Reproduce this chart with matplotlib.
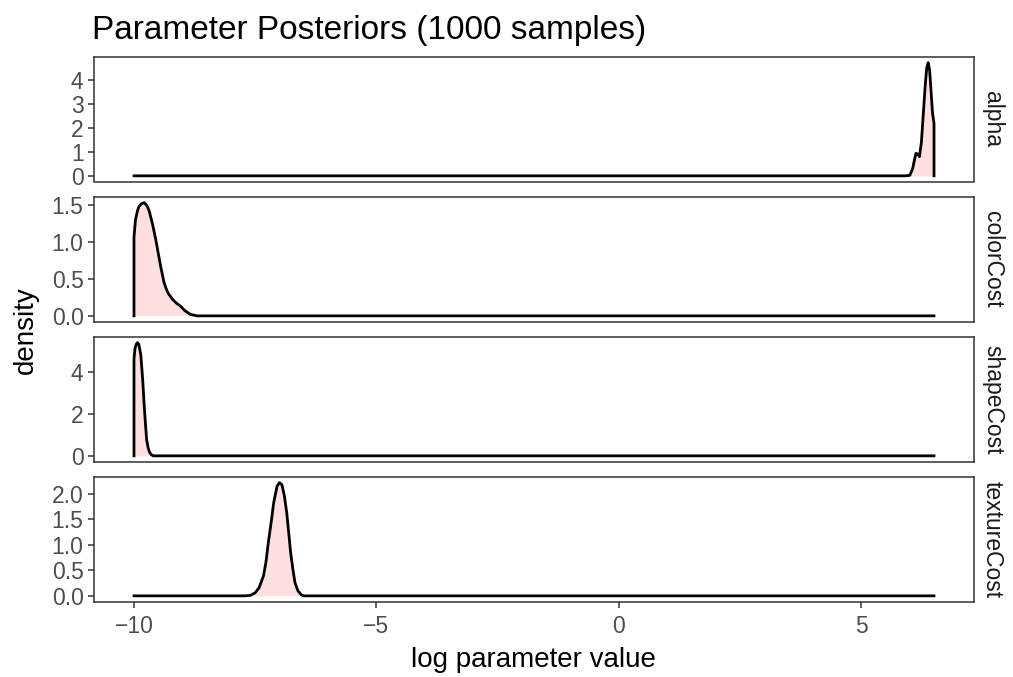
import matplotlib
matplotlib.use("Agg")
import matplotlib.pyplot as plt
from matplotlib.ticker import MultipleLocator, FormatStrFormatter

plt.rcParams['font.family'] = ['Liberation Sans', 'DejaVu Sans']

# 读图得到的密度曲线点
params = ["alpha", "colorCost", "shapeCost", "textureCost"]

alpha_x = [-10, 5.9, 6.0, 6.06, 6.1, 6.13, 6.17, 6.2, 6.24, 6.28, 6.32, 6.35, 6.38, 6.41, 6.44, 6.47, 6.5]
alpha_y = [0, 0, 0.02, 0.3, 0.7, 0.94, 0.9, 0.8, 1.4, 2.6, 3.8, 4.5, 4.72, 4.4, 3.5, 2.6, 2.2]

color_x = [-10, -9.97, -9.93, -9.9, -9.85, -9.79, -9.74, -9.69, -9.62, -9.55, -9.45, -9.38, -9.32, -9.28,
           -9.2, -9.12, -9.04, -8.95, -8.84, -8.7, 6.5]
color_y = [1.07, 1.3, 1.42, 1.48, 1.52, 1.535, 1.5, 1.43, 1.25, 1.03, 0.67, 0.45, 0.34, 0.29,
           0.22, 0.17, 0.13, 0.07, 0.02, 0, 0]

shape_x = [-10, -9.98, -9.95, -9.93, -9.9, -9.86, -9.82, -9.79, -9.76, -9.74, -9.71, -9.68, -9.64, -9.6, 6.5]
shape_y = [4.6, 5.1, 5.32, 5.38, 5.3, 4.8, 3.6, 2.4, 1.4, 0.78, 0.4, 0.17, 0.05, 0, 0]

texture_x = [-10, -7.7, -7.6, -7.5, -7.42, -7.33, -7.28, -7.23, -7.17, -7.12, -7.05, -7.0, -6.95, -6.9,
             -6.85, -6.8, -6.77, -6.72, -6.68, -6.62, -6.55, -6.5, 6.5]
texture_y = [0, 0, 0.01, 0.06, 0.16, 0.39, 0.65, 1.04, 1.45, 1.82, 2.15, 2.22, 2.18, 1.97,
             1.63, 1.15, 0.85, 0.5, 0.26, 0.1, 0.02, 0, 0]

curves = [(alpha_x, alpha_y), (color_x, color_y), (shape_x, shape_y), (texture_x, texture_y)]
y_steps = [1, 0.5, 2, 0.5]
y_fmts = ["%d", "%.1f", "%d", "%.1f"]

fig = plt.figure(figsize=(10.13, 6.77), dpi=100)

W, H = 1013, 677
left, right = 94, 974
top0, ph, step = 57, 124.5, 140

grey20 = "#333333"
grey30 = "#4D4D4D"

axes = []
for i, name in enumerate(params):
    top = top0 + step * i
    ax = fig.add_axes([left / W, 1 - (top + ph) / H, (right - left) / W, ph / H])
    xs, ys = curves[i]
    ax.fill_between(xs, ys, 0, color="#FFDFDF", lw=0)
    # 外轮廓：曲线 + 两端竖线
    ax.plot([xs[0]] + xs + [xs[-1]], [0] + ys + [0], color="black", lw=2.0, solid_joinstyle="round")
    ax.margins(x=0.05, y=0.05)
    ax.yaxis.set_major_locator(MultipleLocator(y_steps[i]))
    ax.yaxis.set_major_formatter(FormatStrFormatter(y_fmts[i]))
    ax.xaxis.set_major_locator(MultipleLocator(5))
    for s in ax.spines.values():
        s.set_color(grey20)
        s.set_linewidth(1.1)
    ax.tick_params(colors=grey20, labelcolor=grey30, labelsize=16.5, length=4.5, width=1.1, pad=3)
    ax.text(1.008, 0.5, name, transform=ax.transAxes, rotation=-90, ha="left", va="center",
            fontsize=16.5, color="#1A1A1A")
    if i < len(params) - 1:
        ax.tick_params(axis="x", bottom=False, labelbottom=False)
    axes.append(ax)

for ax in axes[1:]:
    ax.sharex(axes[0])

axes[-1].set_xticks([-10, -5, 0, 5])
axes[-1].set_xticklabels(["\u221210", "\u22125", "0", "5"])
axes[-1].tick_params(axis="x", pad=5)

fig.text(533 / W, 1 - 660 / H, "log parameter value", ha="center", va="center", fontsize=20)
fig.text(26 / W, 1 - 330 / H, "density", rotation=90, ha="center", va="center", fontsize=20)
fig.text(92 / W, 1 - 30 / H, "Parameter Posteriors (1000 samples)", ha="left", va="center", fontsize=24)

plt.savefig("out.png", dpi=100)
